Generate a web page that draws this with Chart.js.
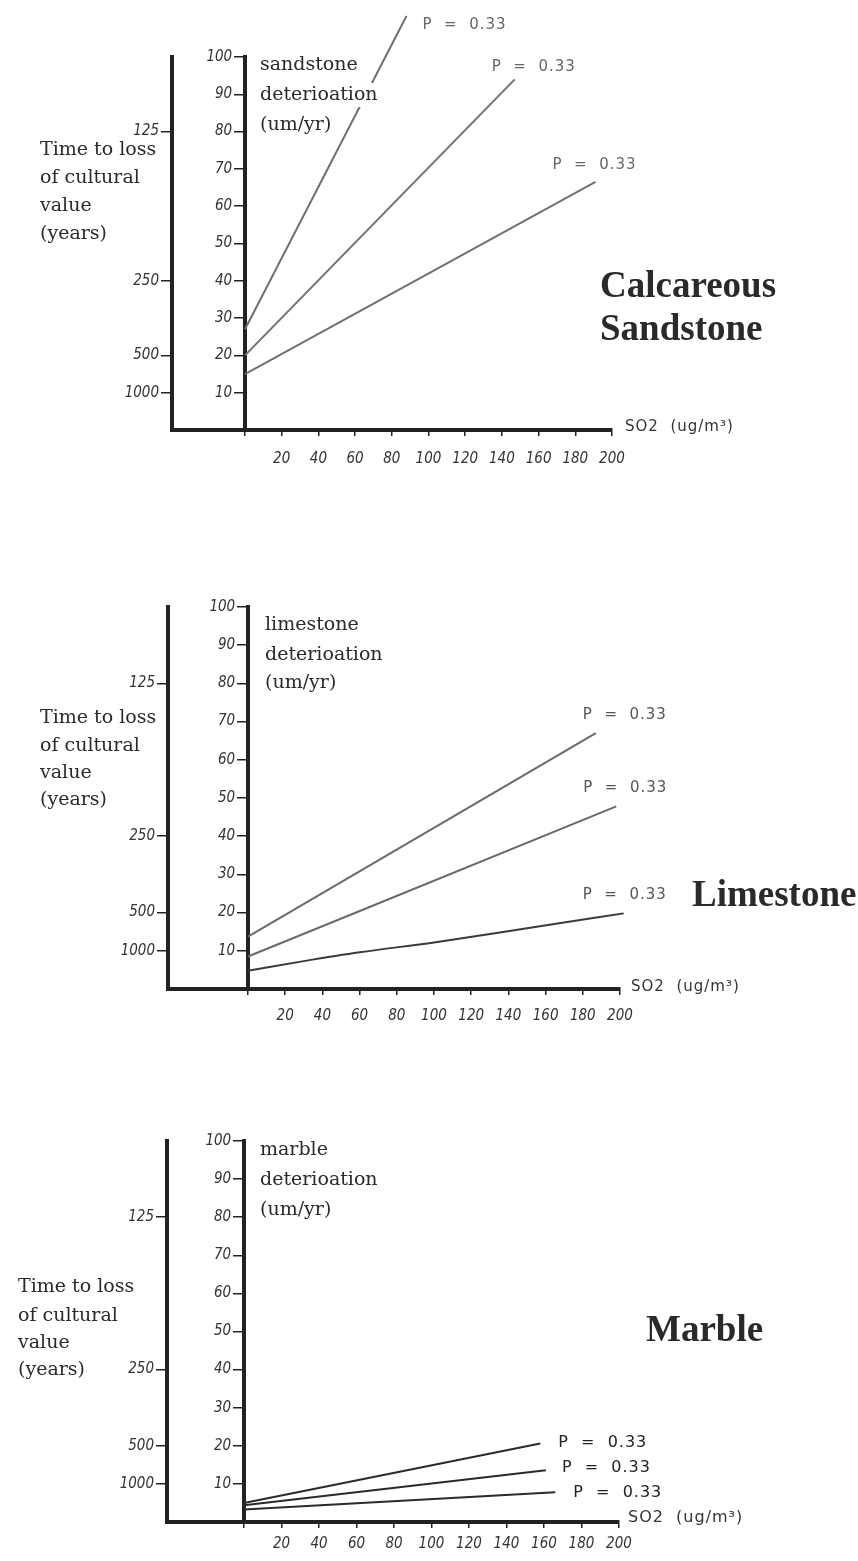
<!DOCTYPE html>
<html>
<head>
<meta charset="utf-8">
<script src="https://cdn.jsdelivr.net/npm/chart.js@4.4.0/dist/chart.umd.min.js"></script>
<style>
  html, body { margin: 0; padding: 0; background: #fff; }
  body { width: 858px; height: 1561px; position: relative; overflow: hidden; }
  canvas { position: absolute; left: 0; }
</style>
</head>
<body>
<canvas id="c1" width="858" height="500" style="top:0"></canvas>
<canvas id="c2" width="858" height="500" style="top:540px"></canvas>
<canvas id="c3" width="858" height="481" style="top:1080px"></canvas>
<script>
// axis ticks
const so2Ticks = [0, 20, 40, 60, 80, 100, 120, 140, 160, 180, 200];
const detTicks = [10, 20, 30, 40, 50, 60, 70, 80, 90, 100];
// years-scale ticks sit at the deterioration level they correspond to
const timeTickAt = [80, 40, 20, 10];
const timeTickLabels = ['125', '250', '500', '1000'];
const pText = 'P  =  0.33';

// deterioration (um/yr) against SO2 (ug/m3)
const sandstoneHigh = [{ x: 0, y: 27 }, { x: 88, y: 111 }];
const sandstoneMid = [{ x: 0, y: 20 }, { x: 147, y: 94 }];
const sandstoneLow = [{ x: 0, y: 15 }, { x: 191, y: 66.5 }];

const limestoneHigh = [{ x: 0, y: 13.7 }, { x: 187, y: 67 }];
const limestoneMid = [{ x: 0, y: 8.5 }, { x: 198, y: 47.8 }];
const limestoneLow = [{ x: 0, y: 4.8 }, { x: 30, y: 7.3 }, { x: 60, y: 9.6 }, { x: 100, y: 12.2 }, { x: 150, y: 15.9 }, { x: 202, y: 19.8 }];

const marbleHigh = [{ x: 0, y: 5 }, { x: 158, y: 20.6 }];
const marbleMid = [{ x: 0, y: 4.4 }, { x: 161, y: 13.6 }];
const marbleLow = [{ x: 0, y: 3.3 }, { x: 166, y: 7.8 }];

const tickFont = { family: "'DejaVu Sans Condensed', 'DejaVu Sans', sans-serif", size: 15, style: 'italic' };
const serif = "'DejaVu Serif', 'Liberation Serif', serif";
const ink = '#222';

const panels = [
    {
        id: 'c1', height: 500,
        area: { left: 172, right: 612, top: 57, bottom: 430 }, detX: 245, xLabelPad: 14,
        series: [sandstoneHigh, sandstoneMid, sandstoneLow],
        colors: ['#707070', '#707070', '#707070'],
        pColor: '#666', pSize: 15,
        pOffsets: [[16, 9], [-23, -12], [-43, -17]],
        texts: [
            { t: 'sandstone', x: 260, y: 65 },
            { t: 'deterioation', x: 260, y: 95, knockout: true },
            { t: '(um/yr)', x: 260, y: 125 },
            { t: 'Time to loss', x: 40, y: 150 },
            { t: 'of cultural', x: 40, y: 178 },
            { t: 'value', x: 40, y: 206 },
            { t: '(years)', x: 40, y: 234 },
            { t: 'Calcareous', x: 600, y: 297, big: true },
            { t: 'Sandstone', x: 600, y: 340, big: true }
        ],
        so2: { x: 625, y: 427 }
    },
    {
        id: 'c2', height: 500,
        area: { left: 168, right: 620, top: 67, bottom: 449 }, detX: 248, xLabelPad: 12,
        series: [limestoneHigh, limestoneMid, limestoneLow],
        colors: ['#6a6a6a', '#6a6a6a', '#3a3a3a'],
        pColor: '#555', pSize: 15,
        pOffsets: [[-13, -18], [-33, -18], [-41, -18]],
        texts: [
            { t: 'limestone', x: 265, y: 85 },
            { t: 'deterioation', x: 265, y: 115 },
            { t: '(um/yr)', x: 265, y: 143 },
            { t: 'Time to loss', x: 40, y: 178 },
            { t: 'of cultural', x: 40, y: 206 },
            { t: 'value', x: 40, y: 233 },
            { t: '(years)', x: 40, y: 260 },
            { t: 'Limestone', x: 692, y: 366, big: true }
        ],
        so2: { x: 631, y: 447 }
    },
    {
        id: 'c3', height: 481,
        area: { left: 167, right: 619, top: 61, bottom: 442 }, detX: 244, xLabelPad: 7,
        series: [marbleHigh, marbleMid, marbleLow],
        colors: ['#2a2a2a', '#2a2a2a', '#2a2a2a'],
        pColor: '#222', pSize: 16,
        pOffsets: [[18, -1], [16, -2], [18, 1]],
        texts: [
            { t: 'marble', x: 260, y: 70 },
            { t: 'deterioation', x: 260, y: 100 },
            { t: '(um/yr)', x: 260, y: 130 },
            { t: 'Time to loss', x: 18, y: 207 },
            { t: 'of cultural', x: 18, y: 236 },
            { t: 'value', x: 18, y: 263 },
            { t: '(years)', x: 18, y: 290 },
            { t: 'Marble', x: 646, y: 261, big: true }
        ],
        so2: { x: 628, y: 438 }
    }
];

function textPlugin(p) {
    return {
        id: 'panelText',
        afterDatasetsDraw(chart) {
            const ctx = chart.ctx;
            ctx.save();
            p.texts.forEach(item => {
                ctx.textAlign = 'left';
                if (item.big) {
                    ctx.font = "bold 37px 'Liberation Serif', serif";
                    ctx.textBaseline = 'alphabetic';
                } else {
                    ctx.font = '19px ' + serif;
                    ctx.textBaseline = 'middle';
                }
                if (item.knockout) {
                    const w = ctx.measureText(item.t).width;
                    ctx.fillStyle = '#fff';
                    ctx.fillRect(item.x - 2, item.y - 12, w + 8, 24);
                }
                ctx.fillStyle = '#2a2a2a';
                ctx.fillText(item.t, item.x, item.y);
            });

            ctx.font = p.pSize + "px 'DejaVu Sans', sans-serif";
            ctx.letterSpacing = '1px';
            ctx.textBaseline = 'middle';
            ctx.fillStyle = '#333';
            ctx.fillText('SO2  (ug/m³)', p.so2.x, p.so2.y);

            // P labels hang off the end of each line
            const xs = chart.scales.x, ys = chart.scales.det;
            ctx.fillStyle = p.pColor;
            p.pOffsets.forEach((off, i) => {
                const pts = p.series[i];
                const last = pts[pts.length - 1];
                ctx.fillText(pText, xs.getPixelForValue(last.x) + off[0], ys.getPixelForValue(last.y) + off[1]);
            });
            ctx.restore();
        }
    };
}

panels.forEach(p => {
    const a = p.area;
    const timeW = 60, xAxisH = 50;
    const xMin = -200 * (p.detX - a.left) / (a.right - p.detX);

    new Chart(document.getElementById(p.id), {
        type: 'line',
        data: {
            datasets: p.series.map((s, i) => ({
                data: s,
                borderColor: p.colors[i],
                borderWidth: 2,
                pointRadius: 0,
                cubicInterpolationMode: 'monotone',
                clip: false,
                yAxisID: 'det'
            }))
        },
        options: {
            responsive: false,
            animation: false,
            layout: {
                padding: { left: a.left - timeW, right: 858 - a.right, top: a.top, bottom: p.height - a.bottom - xAxisH }
            },
            plugins: { legend: { display: false }, tooltip: { enabled: false } },
            scales: {
                x: {
                    type: 'linear', min: xMin, max: 200,
                    afterFit: s => { s.height = xAxisH; },
                    afterBuildTicks: s => { s.ticks = so2Ticks.map(v => ({ value: v })); },
                    ticks: {
                        autoSkip: false, maxRotation: 0, padding: p.xLabelPad,
                        color: '#333', font: tickFont,
                        callback: v => (v === 0 ? '' : String(v))
                    },
                    grid: { drawOnChartArea: false, tickLength: 6, color: ink, lineWidth: 1.5 },
                    border: { display: true, color: ink, width: 4 }
                },
                time: {
                    type: 'linear', position: 'left', min: 0, max: 100,
                    afterFit: s => { s.width = timeW; },
                    afterBuildTicks: s => { s.ticks = timeTickAt.map(v => ({ value: v })); },
                    ticks: {
                        padding: 2, color: '#333', font: tickFont,
                        callback: (v, idx) => timeTickLabels[idx]
                    },
                    grid: { drawOnChartArea: false, tickLength: 11, color: ink, lineWidth: 1.5 },
                    border: { display: true, color: ink, width: 4 }
                },
                det: {
                    type: 'linear', position: { x: 0 }, min: 0, max: 100,
                    afterBuildTicks: s => { s.ticks = detTicks.map(v => ({ value: v })); },
                    // positioned axes right-align labels on the axis line itself,
                    // so trailing spaces push them clear of the tick marks
                    ticks: { color: '#333', font: tickFont, callback: v => v + '   ' },
                    grid: { drawOnChartArea: false, tickLength: 9, color: ink, lineWidth: 1.5 },
                    border: { display: true, color: ink, width: 4 }
                }
            }
        },
        plugins: [textPlugin(p)]
    });
});
</script>
</body>
</html>
